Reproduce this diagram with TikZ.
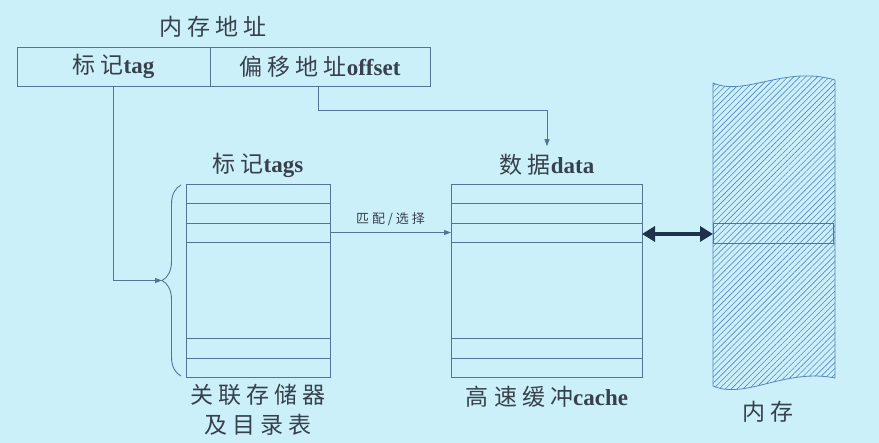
\documentclass[tikz,border=0pt]{standalone}
\usepackage{fontspec}
\setmainfont{Liberation Serif}
\newfontfamily\cjk{Noto Sans CJK SC}
\usepackage{tikz}
\usetikzlibrary{arrows.meta,positioning,patterns.meta,decorations.pathreplacing}
\definecolor{bgcyan}{RGB}{204,240,250}
\definecolor{linegray}{RGB}{85,115,150}
\definecolor{txtgray}{RGB}{55,65,75}
\definecolor{hatchblue}{RGB}{85,135,190}
\definecolor{darknavy}{RGB}{30,50,75}
% Chinese text, letter-spaced a little
\makeatletter
\def\zh@end{\zh@end}
\newcommand{\zh}[1]{{\cjk\zh@first#1\zh@end}}
\def\zh@first#1{#1\zh@rest}
\def\zh@rest#1{\ifx#1\zh@end\else\hspace{0.22em}#1\expandafter\zh@rest\fi}
\makeatother

\begin{document}
\begin{tikzpicture}[x=1pt, y=-1pt,
fieldbox/.style={draw=linegray, line width=0.9pt, minimum height=39pt, outer sep=0pt, inner sep=0pt, text=txtgray, font=\fontsize{23}{27}\selectfont},
tabbox/.style={draw=linegray, line width=0.9pt, minimum height=193pt, outer sep=0pt},
lbl/.style={text=txtgray, font=\fontsize{23}{30}\selectfont, align=center, inner sep=0pt},
arrow/.style={-{Triangle[length=7pt, width=5pt]}, line width=0.8pt, linegray},
bigarrow/.style={{Triangle[length=13pt, width=15pt]}-{Triangle[length=13pt, width=15pt]}, line width=4pt, darknavy}
]
\fill[bgcyan] (0,0) rectangle (879,443);
\useasboundingbox (0,0) rectangle (879,443);

% memory address fields
\node[lbl] (addr) at (213,27) {\zh{内存地址}};
\node[fieldbox, minimum width=193pt] (tagf) at (113.5,66.5) {\zh{标记}\textbf{tag}};
\node[fieldbox, minimum width=220pt, right=0pt of tagf] (offf) {\zh{偏移地址}\textbf{offset}};

% tag directory and cache
\node[tabbox, minimum width=144pt] (tagtab) at (258,280.5) {};
\node[tabbox, minimum width=191pt] (cachetab) at (546.5,280.5) {};
\foreach \y in {203,223,242,338,358} {
  \draw[linegray, line width=0.9pt] (tagtab.west |- 0,\y) -- (tagtab.east |- 0,\y);
  \draw[linegray, line width=0.9pt] (cachetab.west |- 0,\y) -- (cachetab.east |- 0,\y);
}
\coordinate (r3) at (0,232.5);
\node[lbl] (tagslbl) at (258,165) {\zh{标记}\textbf{tags}};
\node[lbl] (datalbl) at (547,165) {\zh{数据}\textbf{data}};
\node[lbl] (assoclbl) at (258,410) {\zh{关联存储器}\\\zh{及目录表}};
\node[lbl] (cachelbl) at (547,397) {\zh{高速缓冲}\textbf{cache}};

% brace in front of the tags
\draw[linegray, line width=0.9pt, decorate, decoration={brace, amplitude=19pt, aspect=0.5}] (181,376) -- (181,185);
\coordinate (bracetip) at (162,280.5);

% main memory
\fill[pattern={Lines[angle=45, distance=4.2pt, line width=0.6pt]}, pattern color=hatchblue]
  (713,83) .. controls (745,97) and (785,65) .. (835,80) -- (835,378)
  .. controls (785,368) and (745,400) .. (713,386) -- cycle;
\draw[hatchblue, line width=0.8pt]
  (713,83) .. controls (745,97) and (785,65) .. (835,80) -- (835,378)
  .. controls (785,368) and (745,400) .. (713,386) -- cycle;
\node[draw=linegray, line width=1pt, minimum width=120pt, minimum height=20pt, inner sep=0pt, outer sep=0pt] (memrow) at (773,234) {};
\node[lbl] (memlbl) at (768,412) {\zh{内存}};

% connectors
\draw[arrow] (tagf.south) |- (bracetip);
\coordinate (turn) at (547,110);
\draw[arrow] (offf.south -| 318,0) |- (turn) -- ([yshift=8pt]datalbl.north);
\draw[arrow] (tagtab.east |- r3) -- node[above=3pt, text=txtgray, font=\fontsize{13}{15}\selectfont]{\zh{匹配/选择}} (cachetab.west |- r3);
\draw[bigarrow] (cachetab.east |- memrow) -- (memrow.west);
\end{tikzpicture}
\end{document}
